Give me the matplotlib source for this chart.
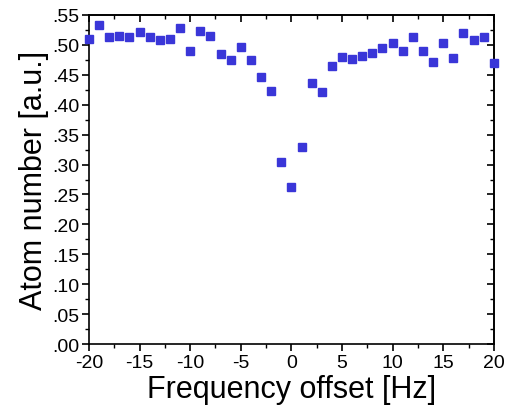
import matplotlib
matplotlib.use("Agg")
import matplotlib.pyplot as plt
from matplotlib.ticker import MultipleLocator, FuncFormatter, NullFormatter

plt.rcParams['font.family'] = ['Liberation Sans', 'DejaVu Sans']

freq = list(range(-20, 21))
atoms = [0.510, 0.533, 0.513, 0.515, 0.513, 0.521, 0.513, 0.509, 0.510, 0.529,
         0.489, 0.523, 0.515, 0.484, 0.475, 0.497, 0.474, 0.447, 0.423, 0.305,
         0.263, 0.329, 0.436, 0.422, 0.464, 0.480, 0.476, 0.482, 0.486, 0.494,
         0.503, 0.490, 0.514, 0.490, 0.472, 0.503, 0.478, 0.520, 0.509, 0.514,
         0.469]

fig = plt.figure(figsize=(5.07, 4.10), dpi=100)
ax = fig.add_axes([0.1755, 0.1585, 0.7985, 0.8025])
ax.plot(freq, atoms, linestyle='none', marker='s', markersize=6,
        color='#3a36d8', markeredgecolor='#3a36d8', clip_on=False, zorder=3)

ax.set_xlim(-20, 20)
ax.set_ylim(0, 0.55)
ax.xaxis.set_major_locator(MultipleLocator(5))
ax.xaxis.set_minor_locator(MultipleLocator(2.5))
ax.yaxis.set_major_locator(MultipleLocator(0.05))
ax.yaxis.set_minor_locator(MultipleLocator(0.025))
ax.yaxis.set_major_formatter(FuncFormatter(lambda v, p: ('%.2f' % v)[1:] if v >= 0 else '%.2f' % v))
ax.xaxis.set_major_formatter(FuncFormatter(lambda v, p: '%d' % round(v)))

for s in ax.spines.values():
    s.set_linewidth(1.2)
ax.tick_params(axis='both', which='major', direction='out', length=5, width=1.2,
               labelsize=14, pad=2)
ax.tick_params(axis='both', which='minor', direction='out', length=3, width=1.0)

top = ax.secondary_xaxis('top')
top.xaxis.set_major_locator(MultipleLocator(5))
top.xaxis.set_minor_locator(MultipleLocator(2.5))
top.xaxis.set_major_formatter(NullFormatter())
top.tick_params(which='major', direction='in', length=5, width=1.2)
top.tick_params(which='minor', direction='in', length=3, width=1.0)
top.spines['top'].set_linewidth(1.2)

right = ax.secondary_yaxis('right')
right.yaxis.set_major_locator(MultipleLocator(0.05))
right.yaxis.set_minor_locator(MultipleLocator(0.025))
right.yaxis.set_major_formatter(NullFormatter())
right.tick_params(which='major', direction='in', length=5, width=1.2)
right.tick_params(which='minor', direction='in', length=3, width=1.0)
right.spines['right'].set_linewidth(1.2)

ax.set_xlabel('Frequency offset [Hz]', fontsize=22, labelpad=2)
ax.set_ylabel('Atom number [a.u.]', fontsize=22, labelpad=2)

fig.savefig('out.png', dpi=100)
